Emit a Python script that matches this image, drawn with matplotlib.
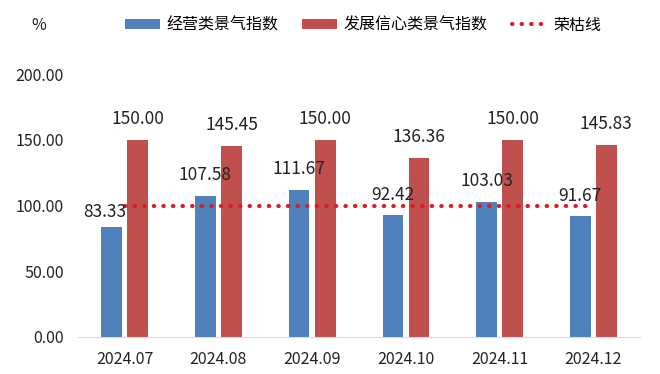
import matplotlib.pyplot as plt
import numpy as np

plt.rcParams['font.family'] = ['Noto Sans CJK SC', 'DejaVu Sans']

# 数据
months = ['2024.07', '2024.08', '2024.09', '2024.10', '2024.11', '2024.12']
operating = [83.33, 107.58, 111.67, 92.42, 103.03, 91.67]
confidence = [150.00, 145.45, 150.00, 136.36, 150.00, 145.83]
boom_line = [100, 100, 100, 100, 100, 100]

blue = '#4f81bd'
red = '#c0504d'

fig = plt.figure(figsize=(6.6, 3.74), dpi=100)
ax = fig.add_axes([0.118, 0.099, 0.852, 0.703])

x = np.arange(len(months))
off = 0.139
w = 0.22
b1 = ax.bar(x - off, operating, w, color=blue, label='经营类景气指数', zorder=2)
b2 = ax.bar(x + off, confidence, w, color=red, label='发展信心类景气指数', zorder=2)
ln, = ax.plot(x, boom_line, color='#d81e25', linestyle=(0, (0.1, 2.2)), linewidth=3,
              dash_capstyle='round', label='荣枯线', zorder=3)

# 数据标签
for i, v in enumerate(operating):
    dx = -5 if i == 0 else 0
    dy = 11 if i == 0 else 15
    ax.annotate(f'{v:.2f}', (x[i] - off, v), xytext=(dx, dy), textcoords='offset points',
                ha='center', va='center', fontsize=12.5, color='#222222')
for i, v in enumerate(confidence):
    ax.annotate(f'{v:.2f}', (x[i] + off, v), xytext=(0, 15), textcoords='offset points',
                ha='center', va='center', fontsize=12.5, color='#222222')

ax.set_xlim(-0.5, len(months) - 0.5)
ax.set_ylim(0, 200)
ax.set_yticks([0, 50, 100, 150, 200])
ax.set_yticklabels([f'{t:.2f}' for t in [0, 50, 100, 150, 200]])
ax.set_xticks(x)
ax.set_xticklabels(months)
ax.tick_params(axis='both', length=0, labelsize=11.5, colors='#222222')
ax.tick_params(axis='x', pad=10)
ax.tick_params(axis='y', pad=10)
for s in ['top', 'right', 'left']:
    ax.spines[s].set_visible(False)
ax.spines['bottom'].set_color('#d9d9d9')

fig.text(0.048, 0.933, '%', fontsize=11.5, color='#222222', ha='left', va='center')
fig.legend(handles=[b1, b2, ln], loc='center', bbox_to_anchor=(0.55, 0.933), ncol=3,
           frameon=False, fontsize=11.5, handlelength=2.2, handleheight=0.55,
           columnspacing=1.5, handletextpad=0.4)

fig.savefig('out.png', dpi=100)
